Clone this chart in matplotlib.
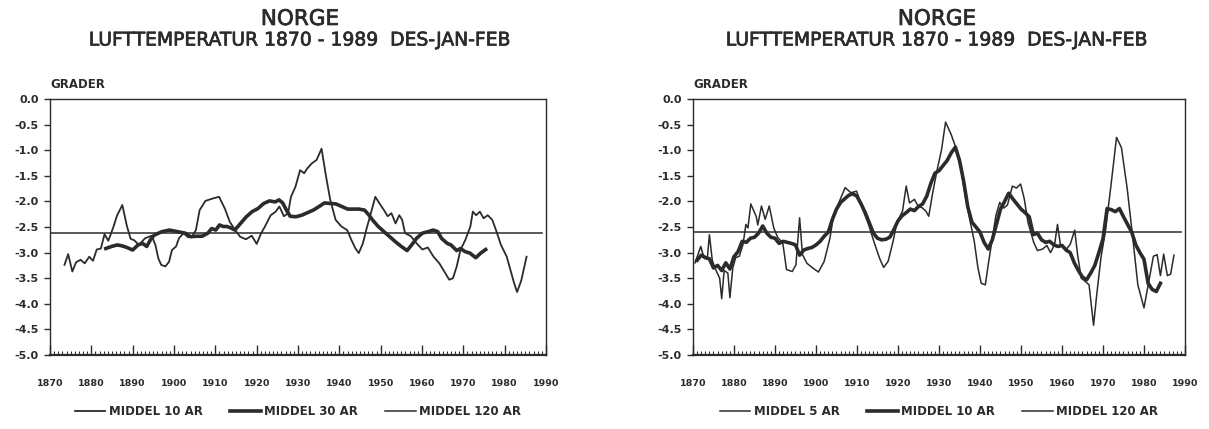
import matplotlib
matplotlib.use("Agg")
import matplotlib.pyplot as plt
import matplotlib.patheffects as pe
import numpy as np

# data (degrees, winter mean DES-JAN-FEB)
left_10_years = [1873.5, 1874.4, 1875.4, 1876.3, 1877.4, 1878.4, 1879.5, 1880.4, 1881.3, 1882.3,
                 1883.2, 1884.1, 1885.3, 1886.2, 1887.5, 1888.6, 1889.5, 1890.4, 1891.5, 1893.0,
                 1894.6, 1895.5, 1896.2, 1896.9, 1897.9, 1898.8, 1899.5, 1900.5, 1901.2, 1902.3,
                 1903.4, 1904.4, 1905.3, 1906.2, 1907.6, 1909.5, 1910.9, 1912.3, 1913.5, 1914.8,
                 1916.0, 1917.4, 1918.8, 1920.0, 1921.1, 1922.0, 1923.4, 1924.6, 1925.5, 1926.6,
                 1927.6, 1928.3, 1929.4, 1930.5, 1931.5, 1932.2, 1933.3, 1934.5, 1935.7, 1936.8,
                 1937.8, 1939.1, 1940.5, 1941.9, 1942.9, 1943.9, 1944.7, 1945.7, 1946.6, 1947.5,
                 1948.7, 1949.8, 1950.8, 1951.7, 1952.6, 1953.6, 1954.5, 1955.2, 1955.9, 1957.3,
                 1958.7, 1960.1, 1961.4, 1962.8, 1964.2, 1965.4, 1966.6, 1967.5, 1968.4, 1969.3,
                 1970.5, 1971.7, 1972.3, 1973.1, 1974.0, 1974.9, 1975.9, 1977.0, 1977.9, 1979.1,
                 1980.5, 1981.4, 1982.3, 1983.0, 1984.0, 1985.3]
left_10_vals = [-3.24, -3.03, -3.37, -3.19, -3.14, -3.21, -3.08, -3.16, -2.94, -2.92,
                -2.64, -2.77, -2.51, -2.28, -2.07, -2.48, -2.73, -2.76, -2.85, -2.72,
                -2.67, -2.85, -3.11, -3.24, -3.27, -3.18, -2.95, -2.88, -2.72, -2.62,
                -2.70, -2.68, -2.56, -2.17, -1.99, -1.94, -1.91, -2.14, -2.40, -2.56,
                -2.69, -2.74, -2.67, -2.83, -2.62, -2.49, -2.27, -2.20, -2.10, -2.29,
                -2.23, -1.91, -1.71, -1.39, -1.45, -1.36, -1.26, -1.19, -0.97, -1.52,
                -1.97, -2.36, -2.49, -2.56, -2.75, -2.92, -3.01, -2.82, -2.53, -2.27,
                -1.91, -2.05, -2.17, -2.29, -2.23, -2.43, -2.27, -2.36, -2.62, -2.68,
                -2.82, -2.94, -2.90, -3.08, -3.21, -3.37, -3.53, -3.50, -3.27, -2.95,
                -2.75, -2.49, -2.20, -2.27, -2.20, -2.33, -2.27, -2.36, -2.56, -2.85,
                -3.08, -3.34, -3.60, -3.77, -3.55, -3.08]

left_30_years = [1883.5, 1884.9, 1886.3, 1887.5, 1888.6, 1890.0, 1891.3, 1892.4, 1893.4, 1894.3,
                 1895.2, 1897.1, 1898.9, 1900.8, 1902.7, 1904.0, 1905.4, 1906.8, 1908.2, 1909.1,
                 1910.1, 1911.0, 1911.9, 1912.8, 1913.8, 1914.7, 1916.1, 1917.5, 1918.9, 1920.3,
                 1921.7, 1923.1, 1924.5, 1925.4, 1926.3, 1927.2, 1928.1, 1929.5, 1930.9, 1932.3,
                 1933.7, 1935.1, 1936.4, 1937.8, 1939.2, 1940.6, 1942.0, 1943.4, 1944.7, 1946.1,
                 1947.1, 1948.0, 1949.4, 1950.8, 1952.2, 1953.6, 1955.0, 1956.4, 1957.5, 1958.7,
                 1960.1, 1961.5, 1962.7, 1963.8, 1964.7, 1966.1, 1967.0, 1968.4, 1969.3, 1970.4,
                 1971.6, 1973.0, 1974.2, 1975.4]
left_30_vals = [-2.92, -2.88, -2.85, -2.87, -2.90, -2.95, -2.85, -2.82, -2.88, -2.75,
                -2.66, -2.59, -2.56, -2.59, -2.62, -2.69, -2.68, -2.68, -2.62, -2.53,
                -2.56, -2.46, -2.49, -2.49, -2.52, -2.56, -2.43, -2.30, -2.20, -2.14,
                -2.04, -1.99, -2.01, -1.97, -2.03, -2.17, -2.29, -2.30, -2.27, -2.22,
                -2.17, -2.10, -2.03, -2.04, -2.05, -2.10, -2.15, -2.15, -2.15, -2.17,
                -2.26, -2.36, -2.49, -2.59, -2.69, -2.79, -2.88, -2.96, -2.85, -2.72,
                -2.62, -2.59, -2.56, -2.59, -2.72, -2.82, -2.85, -2.96, -2.92, -2.98,
                -3.01, -3.10, -3.01, -2.94]

right_5_years = [1870.5, 1871.9, 1872.5, 1873.5, 1874.0, 1874.7, 1875.4, 1876.5, 1877.0, 1877.6,
                 1878.5, 1879.0, 1879.7, 1880.4, 1881.3, 1882.2, 1882.9, 1883.4, 1884.1, 1885.4,
                 1885.8, 1886.7, 1887.6, 1888.6, 1889.7, 1890.7, 1891.9, 1892.8, 1894.2, 1895.1,
                 1896.0, 1896.7, 1897.8, 1899.2, 1900.6, 1902.0, 1903.4, 1904.3, 1905.7, 1907.1,
                 1908.5, 1909.9, 1911.3, 1912.7, 1914.1, 1915.5, 1916.5, 1917.6, 1918.8, 1919.7,
                 1921.1, 1922.0, 1922.8, 1924.0, 1924.9, 1926.0, 1926.8, 1927.5, 1928.4, 1929.5,
                 1930.6, 1931.6, 1933.0, 1934.1, 1935.3, 1936.5, 1937.6, 1938.6, 1939.5, 1940.3,
                 1941.3, 1942.0, 1943.0, 1943.9, 1944.8, 1945.8, 1946.7, 1947.9, 1948.9, 1949.9,
                 1950.8, 1951.7, 1953.1, 1954.0, 1955.3, 1956.3, 1957.2, 1958.2, 1958.9, 1959.6,
                 1961.0, 1962.0, 1963.1, 1963.8, 1964.7, 1965.8, 1966.6, 1967.7, 1968.5, 1969.5,
                 1970.6, 1972.0, 1973.3, 1974.5, 1975.9, 1977.2, 1978.5, 1980.0, 1981.2, 1982.3,
                 1983.2, 1984.0, 1984.8, 1985.7, 1986.5, 1987.3]
right_5_vals = [-3.20, -2.88, -3.05, -3.10, -2.65, -3.15, -3.31, -3.50, -3.90, -3.35,
                -3.40, -3.88, -3.30, -3.10, -3.07, -2.84, -2.45, -2.52, -2.05, -2.29,
                -2.46, -2.09, -2.35, -2.09, -2.52, -2.71, -2.81, -3.33, -3.37, -3.24,
                -2.32, -3.04, -3.21, -3.30, -3.38, -3.17, -2.72, -2.26, -2.00, -1.73,
                -1.83, -1.80, -2.13, -2.42, -2.78, -3.11, -3.29, -3.17, -2.78, -2.42,
                -2.19, -1.70, -2.03, -1.96, -2.09, -2.13, -2.19, -2.29, -1.86, -1.40,
                -1.00, -0.45, -0.70, -0.95, -1.34, -1.93, -2.39, -2.78, -3.30, -3.60,
                -3.63, -3.24, -2.72, -2.27, -2.02, -2.13, -2.07, -1.70, -1.74, -1.66,
                -1.95, -2.41, -2.80, -2.96, -2.93, -2.86, -3.00, -2.84, -2.45, -2.84,
                -2.94, -2.84, -2.56, -3.04, -3.50, -3.57, -3.63, -4.42, -3.80, -3.10,
                -2.57, -1.65, -0.75, -0.95, -1.75, -2.67, -3.63, -4.08, -3.55, -3.07,
                -3.04, -3.45, -3.03, -3.45, -3.42, -3.05]

right_10_years = list(range(1871, 1985))
right_10_vals = [-3.15, -3.05, -3.10, -3.12, -3.30, -3.25, -3.35, -3.20, -3.32, -3.08,
                 -2.98, -2.78, -2.80, -2.72, -2.70, -2.62, -2.48, -2.62, -2.70, -2.72,
                 -2.82, -2.78, -2.80, -2.82, -2.85, -3.05, -2.95, -2.92, -2.90, -2.85,
                 -2.78, -2.68, -2.60, -2.35, -2.15, -2.02, -1.95, -1.88, -1.85, -1.90,
                 -2.05, -2.22, -2.42, -2.62, -2.72, -2.75, -2.74, -2.70, -2.55, -2.38,
                 -2.28, -2.22, -2.15, -2.18, -2.10, -2.05, -1.90, -1.65, -1.45, -1.40,
                 -1.30, -1.20, -1.05, -0.94, -1.20, -1.60, -2.10, -2.40, -2.50, -2.60,
                 -2.80, -2.93, -2.75, -2.45, -2.15, -2.00, -1.84, -1.95, -2.05, -2.15,
                 -2.22, -2.30, -2.65, -2.62, -2.75, -2.80, -2.78, -2.85, -2.88, -2.86,
                 -2.95, -3.00, -3.20, -3.35, -3.48, -3.53, -3.40, -3.25, -3.00, -2.73,
                 -2.14, -2.16, -2.20, -2.14, -2.30, -2.45, -2.60, -2.85, -3.00, -3.13,
                 -3.60, -3.72, -3.76, -3.60]

mean_120_years = [1870, 1989]
left_120_val = -2.62
right_120_val = -2.60

title = "NORGE"
subtitle = "LUFTTEMPERATUR 1870 - 1989  DES-JAN-FEB"
ytick_vals = [0.0, -0.5, -1.0, -1.5, -2.0, -2.5, -3.0, -3.5, -4.0, -4.5, -5.0]
xtick_years = list(range(1870, 1991, 10))

plt.rcParams['font.family'] = ['DejaVu Sans']
plt.rcParams['axes.unicode_minus'] = False

ink = '#2b2b2b'
W, H = 1209, 429
fig = plt.figure(figsize=(W / 100, H / 100), dpi=100)
thick_text = [pe.withStroke(linewidth=0.5, foreground=ink)]

def setup(ax, cx_title):
    ax.set_xlim(1870, 1990)
    ax.set_ylim(-5.0, 0.0)
    ax.set_yticks(ytick_vals)
    ax.set_yticklabels([f"{v:.1f}" for v in ytick_vals], fontsize=8, fontweight='bold', color=ink)
    ax.set_xticks(xtick_years)
    ax.set_xticklabels([str(y) for y in xtick_years], fontsize=6.8, fontweight='bold', color=ink)
    ax.set_xticks(np.arange(1870, 1991, 1), minor=True)
    ax.tick_params(axis='y', direction='out', length=4, width=1, color=ink, pad=4)
    ax.tick_params(axis='x', which='major', direction='in', length=7, width=1, color=ink, pad=17)
    ax.tick_params(axis='x', which='minor', direction='in', length=3, width=0.8, color=ink)
    ax.tick_params(axis='y', which='minor', left=False)
    for s in ax.spines.values():
        s.set_color(ink)
        s.set_linewidth(1.0)
    ax.spines['bottom'].set_linewidth(1.6)
    ax.text(0.0, 1.03, "GRADER", transform=ax.transAxes, fontsize=8.5, fontweight='bold',
            color=ink, ha='left', va='bottom')
    fig.text(cx_title, 1 - 19 / H, title, fontsize=15.5, color=ink, ha='center', va='center',
             path_effects=thick_text)
    fig.text(cx_title, 1 - 40 / H, subtitle, fontsize=13.5, color=ink, ha='center', va='center',
             path_effects=thick_text)

# left panel
ax1 = fig.add_axes([50 / W, 1 - 355 / H, 496 / W, 256 / H])
ax1.plot(left_10_years, left_10_vals, color=ink, lw=1.3, label="MIDDEL 10 AR")
ax1.plot(left_30_years, left_30_vals, color=ink, lw=2.6, label="MIDDEL 30 AR")
ax1.plot(mean_120_years, [left_120_val, left_120_val], color=ink, lw=1.1, label="MIDDEL 120 AR")
setup(ax1, 300 / W)

# right panel
ax2 = fig.add_axes([693 / W, 1 - 355 / H, 492 / W, 256 / H])
ax2.plot(right_5_years, right_5_vals, color=ink, lw=1.1, label="MIDDEL 5 AR")
ax2.plot(right_10_years, right_10_vals, color=ink, lw=2.6, label="MIDDEL 10 AR")
ax2.plot(mean_120_years, [right_120_val, right_120_val], color=ink, lw=1.1, label="MIDDEL 120 AR")
setup(ax2, 937 / W)

for ax in (ax1, ax2):
    leg = ax.legend(loc='center', bbox_to_anchor=(0.5, -0.22), ncol=3, frameon=False,
                    handlelength=2.6, handletextpad=0.3, columnspacing=2.3,
                    prop={'size': 8.5, 'weight': 'bold'})
    for t in leg.get_texts():
        t.set_color(ink)

fig.savefig("out.png", dpi=100)
